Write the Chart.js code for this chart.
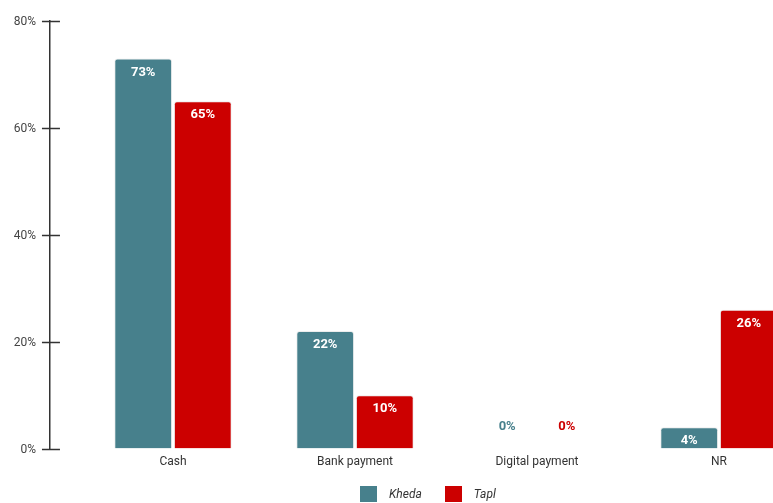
<!DOCTYPE html>
<html>
<head>
<meta charset="utf-8">
<script src="https://cdn.jsdelivr.net/npm/chart.js@4.4.0/dist/chart.umd.min.js"></script>
<style>
  body { margin: 0; overflow: hidden; background: #fff; position: relative; width: 773px; height: 503px; }
  #chartLegend { position: absolute; left: 360px; top: 486px; display: flex; align-items: center;
    font: italic 12px Roboto, sans-serif; color: #333; }
  #chartLegend .item { display: flex; align-items: center; margin-right: 23px; }
  #chartLegend .box { width: 17px; height: 16px; margin-right: 12px; }
</style>
</head>
<body>
<canvas id="myChart" width="856" height="503"></canvas>
<div id="chartLegend"></div>
<script>
var categories = ["Cash", "Bank payment", "Digital payment", "NR"]
var khedaValues = [73, 22, 0, 4]
var taplValues = [65, 10, 0, 26]
var yTicks = [0, 20, 40, 60, 80]

var tealColor = "#47808c"
var redColor = "#cc0000"
var axisPos = -0.676   // y axis sits a little left of the first bar group

// white labels inside the bar top, coloured ones above the base for zero values
var barLabels = {
  id: "barLabels",
  afterDatasetsDraw: function(chart) {
    var ctx = chart.ctx
    ctx.save()
    ctx.font = "bold 13px Roboto"
    ctx.textAlign = "center"
    ctx.textBaseline = "middle"
    chart.data.datasets.forEach(function(ds, di) {
      var meta = chart.getDatasetMeta(di)
      meta.data.forEach(function(bar, i) {
        var v = ds.data[i]
        if (v === 0) {
          ctx.fillStyle = ds.backgroundColor
          ctx.fillText(v + "%", bar.x, bar.base - 22)
        } else {
          ctx.fillStyle = "#ffffff"
          ctx.fillText(v + "%", bar.x, bar.y + 14)
        }
      })
    })
    ctx.restore()
  }
}

// y axis ticks cross the axis line; labels sit left of them
var yAxisTicks = {
  id: "yAxisTicks",
  afterDraw: function(chart) {
    var ctx = chart.ctx
    var y = chart.scales.y
    var left = chart.scales.x.getPixelForValue(axisPos)
    ctx.save()
    ctx.strokeStyle = "#333"
    ctx.lineWidth = 1.5
    ctx.fillStyle = "#444"
    ctx.font = "12px Roboto"
    ctx.textAlign = "right"
    ctx.textBaseline = "middle"
    y.ticks.forEach(function(t) {
      var py = Math.round(y.getPixelForValue(t.value)) + 0.5
      ctx.beginPath()
      ctx.moveTo(left - 8, py)
      ctx.lineTo(left + 10, py)
      ctx.stroke()
      ctx.fillText(t.value + "%", left - 14, py)
    })
    ctx.restore()
  }
}

function barBorder(c) {
  return c.raw === 0 ? 0 : 1
}

var ctx = document.getElementById("myChart").getContext("2d")
var chart = new Chart(ctx, {
  type: "bar",
  data: {
    labels: categories,
    datasets: [{
      label: "Kheda",
      data: khedaValues,
      backgroundColor: tealColor,
      borderColor: "rgba(235,235,235,0.9)",
      borderWidth: barBorder,
      borderRadius: { topLeft: 3, topRight: 3 },
      borderSkipped: "bottom"
    }, {
      label: "Tapl",
      data: taplValues,
      backgroundColor: redColor,
      borderColor: "rgba(235,235,235,0.9)",
      borderWidth: barBorder,
      borderRadius: { topLeft: 3, topRight: 3 },
      borderSkipped: "bottom"
    }]
  },
  options: {
    responsive: false,
    animation: false,
    categoryPercentage: 0.655,
    barPercentage: 0.97,
    layout: {
      padding: { left: 82, right: 46, top: 21, bottom: 28 }
    },
    plugins: {
      legend: { display: false },
      tooltip: { enabled: false }
    },
    scales: {
      x: {
        grid: { display: false, tickLength: 0 },
        border: { display: false },
        ticks: {
          color: "#333",
          padding: 6,
          maxRotation: 0,
          font: { family: "Roboto", size: 12 }
        }
      },
      y: {
        position: { x: axisPos },
        min: 0,
        max: 80,
        grid: { display: false },
        border: { display: true, color: "#333", width: 1.5 },
        ticks: {
          display: false,
          stepSize: 20
        }
      }
    }
  },
  plugins: [barLabels, yAxisTicks]
})

// legend built from the datasets, under the chart
chart.data.datasets.forEach(function(ds) {
  var legendItem = '<div class="item"><div class="box" style="background:' + ds.backgroundColor +
    '"></div><span>' + ds.label + '</span></div>'
  document.getElementById("chartLegend").insertAdjacentHTML("beforeend", legendItem)
})
</script>
</body>
</html>
